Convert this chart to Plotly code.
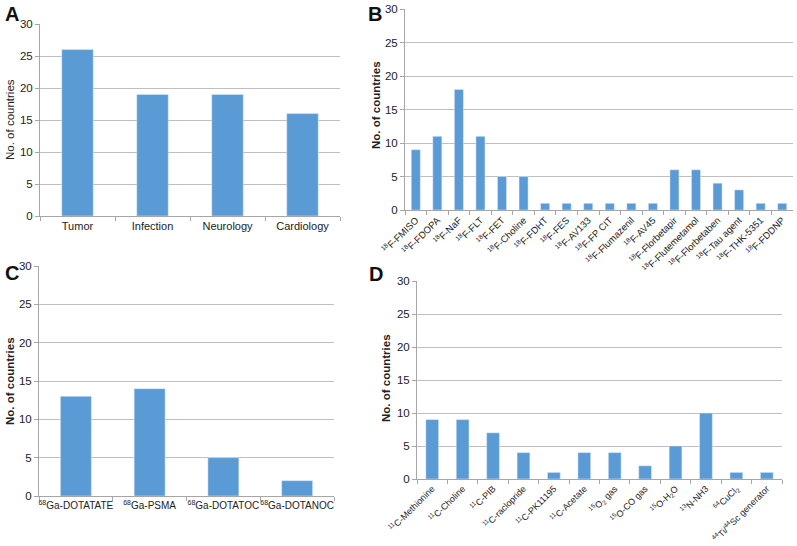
import plotly.graph_objects as go

W, H = 797, 546

a_cats = ["Tumor", "Infection", "Neurology", "Cardiology"]
a_vals = [26, 19, 19, 16]

b_cats = ["<sup>18</sup>F-FMISO", "<sup>18</sup>F-FDOPA", "<sup>18</sup>F-NaF", "<sup>18</sup>F-FLT",
          "<sup>18</sup>F-FET", "<sup>18</sup>F-Choline", "<sup>18</sup>F-FDHT", "<sup>18</sup>F-FES",
          "<sup>18</sup>F-AV133", "<sup>18</sup>F-FP CIT", "<sup>18</sup>F-Flumazenil", "<sup>18</sup>F-AV45",
          "<sup>18</sup>F-Florbetapir", "<sup>18</sup>F-Flutemetamol", "<sup>18</sup>F-Florbetaben",
          "<sup>18</sup>F-Tau agent", "<sup>18</sup>F-THK-5351", "<sup>18</sup>F-FDDNP"]
b_vals = [9, 11, 18, 11, 5, 5, 1, 1, 1, 1, 1, 1, 6, 6, 4, 3, 1, 1]

c_cats = ["<sup>68</sup>Ga-DOTATATE", "<sup>68</sup>Ga-PSMA", "<sup>68</sup>Ga-DOTATOC", "<sup>68</sup>Ga-DOTANOC"]
c_vals = [13, 14, 5, 2]

d_cats = ["<sup>11</sup>C-Methionine", "<sup>11</sup>C-Choline", "<sup>11</sup>C-PIB", "<sup>11</sup>C-raclopride",
          "<sup>11</sup>C-PK11195", "<sup>11</sup>C-Acetate", "<sup>15</sup>O<sub>2</sub> gas",
          "<sup>15</sup>O-CO gas", "<sup>15</sup>O-H<sub>2</sub>O", "<sup>13</sup>N-NH3",
          "<sup>64</sup>CuCl<sub>2</sub>", "<sup>44</sup>Ti/<sup>44</sup>Sc generator"]
d_vals = [9, 9, 7, 4, 1, 4, 4, 2, 5, 10, 1, 1]

BAR = "#5b9bd5"
GRID = "#bfbfbf"
FONT = "Liberation Sans, Arial, sans-serif"

# panel pixel boxes: (x0, x1, ytop, ybottom)
boxes = {
    1: (40, 340, 24, 216),
    2: (405, 793, 9, 210),
    3: (39, 334, 266, 496),
    4: (417, 782, 281, 479),
}

fig = go.Figure()
data = [(a_cats, a_vals), (b_cats, b_vals), (c_cats, c_vals), (d_cats, d_vals)]
for i, (cats, vals) in enumerate(data, start=1):
    sfx = "" if i == 1 else str(i)
    fig.add_trace(go.Bar(x=cats, y=vals, marker_color=BAR, width=0.42,
                         xaxis="x" + sfx, yaxis="y" + sfx, showlegend=False))

tick_sizes = {1: 11, 2: 9.5, 3: 10, 4: 9}
angles = {1: 0, 2: -45, 3: 0, 4: -45}
for i, (x0, x1, yt, yb) in boxes.items():
    sfx = "" if i == 1 else str(i)
    fig.layout["xaxis" + sfx] = dict(
        domain=[x0 / W, x1 / W], anchor="y" + sfx, type="category", automargin=False,
        showline=True, linecolor="#a6a6a6", linewidth=1, ticks="outside",
        tickson="boundaries", ticklen=4, tickcolor="#a6a6a6",
        tickangle=angles[i], tickfont=dict(size=tick_sizes[i], color="#222", family=FONT),
        showgrid=False, fixedrange=True)
    fig.layout["yaxis" + sfx] = dict(
        domain=[1 - yb / H, 1 - yt / H], anchor="x" + sfx, range=[0, 30], dtick=5, automargin=False,
        showline=True, linecolor="#a6a6a6", linewidth=1, ticks="outside", ticklen=4,
        tickcolor="#a6a6a6", gridcolor=GRID, gridwidth=1, zeroline=False,
        tickfont=dict(size=11.5, color="#222", family=FONT), fixedrange=True)

annotations = []
for letter, x, y in [("A", 3, 1), ("B", 366, 1), ("C", 3, 260), ("D", 367, 261)]:
    annotations.append(dict(text="<b>%s</b>" % letter, x=x / W, y=1 - y / H, xref="paper", yref="paper",
                            xanchor="left", yanchor="top", showarrow=False,
                            font=dict(size=20, color="#111", family=FONT)))
for txt, x, y in [("No. of countries", 10, 120), ("<b>No. of countries</b>", 376, 105),
                  ("<b>No. of countries</b>", 10, 381), ("<b>No. of countries</b>", 386, 378)]:
    annotations.append(dict(text=txt, x=x / W, y=1 - y / H, xref="paper", yref="paper",
                            xanchor="center", yanchor="middle", textangle=-90, showarrow=False,
                            font=dict(size=11.5, color="#222", family=FONT)))

fig.update_layout(width=W, height=H, margin=dict(l=0, r=0, t=0, b=0, autoexpand=False),
                  paper_bgcolor="white", plot_bgcolor="white",
                  font=dict(family=FONT), annotations=annotations)

fig.write_html("out.html", config={"displayModeBar": False},
               post_script="document.body.style.margin='0';document.body.style.overflow='hidden';")
